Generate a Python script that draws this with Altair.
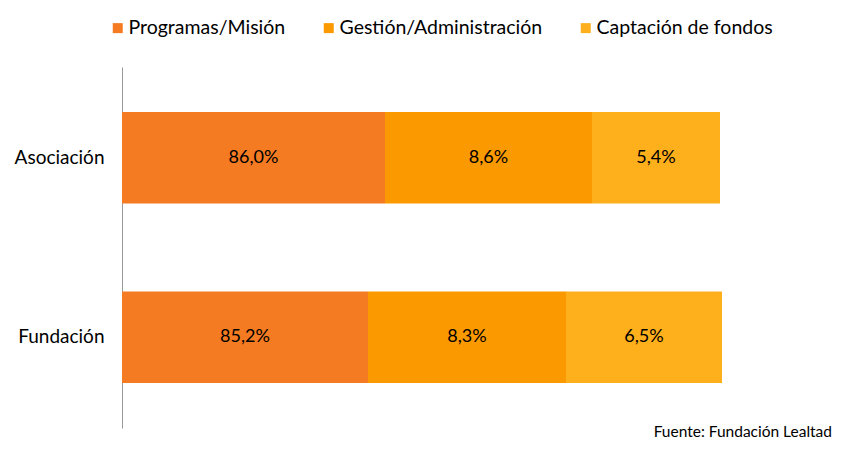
import altair as alt
import pandas as pd

# Data
categories = ["Asociación", "Fundación"]
series = ["Programas/Misión", "Gestión/Administración", "Captación de fondos"]
labels_asociacion = ["86,0%", "8,6%", "5,4%"]
labels_fundacion = ["85,2%", "8,3%", "6,5%"]
# drawn segment lengths as they appear in the picture (axis units 0-600)
lengths_asociacion = [263, 207, 128]
lengths_fundacion = [246, 198, 156]
colors = ["#F47B22", "#FB9900", "#FDAF1C"]
source_text = "Fuente: Fundación Lealtad"

rows = []
for cat, labs, lens in [
    (categories[0], labels_asociacion, lengths_asociacion),
    (categories[1], labels_fundacion, lengths_fundacion),
]:
    start = 0
    for i, (s, lab, ln) in enumerate(zip(series, labs, lens)):
        rows.append({"cat": cat, "serie": s, "idx": i, "label": lab,
                     "start": start, "end": start + ln, "mid": start + ln / 2})
        start += ln
df = pd.DataFrame(rows)

FONT = "Lato"

y_enc = alt.Y("cat:N", sort=categories, title=None,
              scale=alt.Scale(paddingInner=0.49, paddingOuter=0.25),
              axis=alt.Axis(domainColor="#999999", domainWidth=1, ticks=False,
                            labelPadding=18, labelFontSize=19, labelColor="#000000",
                            labelFont=FONT, grid=False))
x_scale = alt.Scale(domain=[0, 600], nice=False, zero=True)

bars = alt.Chart(df).mark_bar().encode(
    y=y_enc,
    x=alt.X("start:Q", scale=x_scale, axis=None),
    x2="end:Q",
    color=alt.Color("serie:N", sort=series,
                    scale=alt.Scale(domain=series, range=colors),
                    legend=alt.Legend(orient="none", legendX=-14, legendY=-49,
                                      direction="horizontal", title=None,
                                      symbolType="square", symbolSize=100,
                                      symbolStrokeWidth=0, labelFontSize=19.5,
                                      labelFont=FONT, labelColor="#000000",
                                      labelOffset=1, columnPadding=33,
                                      labelLimit=0, padding=0)),
)

texts = alt.Chart(df).mark_text(fontSize=18, font=FONT, color="#000000",
                                align="center", baseline="middle").encode(
    y=alt.Y("cat:N", sort=categories),
    x=alt.X("mid:Q", scale=x_scale),
    text="label:N",
)

source = alt.Chart(pd.DataFrame({"t": [source_text]})).mark_text(
    fontSize=15.5, font=FONT, color="#000000", align="right", baseline="alphabetic"
).encode(x=alt.value(710), y=alt.value(370), text="t:N")

chart = alt.layer(bars, texts, source).properties(
    width=600, height=361,
    padding={"left": 114, "top": 59, "right": 114, "bottom": 13},
    autosize=alt.AutoSizeParams(type="none"),
).configure_view(stroke=None)

chart.save("out.html", embed_options={"renderer": "svg", "actions": False})
